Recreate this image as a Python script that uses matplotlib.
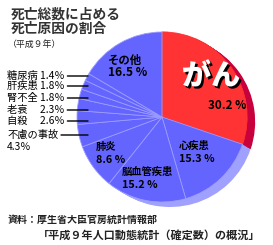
import matplotlib
matplotlib.use("Agg")
import matplotlib.pyplot as plt
import matplotlib.patheffects as pe

plt.rcParams["font.family"] = ["Noto Sans CJK JP", "DejaVu Sans"]

# 死因別割合 (平成9年), 12時から時計回り
causes = ["がん", "心疾患", "脳血管疾患", "肺炎", "不慮の事故", "自殺",
          "老衰", "腎不全", "肝疾患", "糖尿病", "その他"]
shares = [30.2, 15.3, 15.2, 8.6, 4.3, 2.6, 2.3, 1.8, 1.8, 1.4, 16.5]

title_lines = ["死亡総数に占める", "死亡原因の割合"]
subtitle = "（平成９年）"
source_lines = ["資料：厚生省大臣官房統計情報部",
                "「平成９年人口動態統計（確定数）の概況」"]

PURPLE, PURPLE_SIDE, PURPLE_EDGE = "#6464ff", "#a0a0ff", "#9c9cff"
RED, RED_SIDE = "#ff3333", "#c8003c"

fig = plt.figure(figsize=(2.73, 2.45), dpi=100)
ax = fig.add_axes([0, 0, 1, 1])

cx, cy, R = 162, 117, 85
explode = [0.18] + [0] * (len(shares) - 1)
face = [RED] + [PURPLE] * (len(shares) - 1)
side = [RED_SIDE] + [PURPLE_SIDE] * (len(shares) - 1)

# 厚み (側面) を少しずつずらして重ねる
steps = 8
for k in range(steps, 0, -1):
    dx, dy = 8 * k / steps, 5 * k / steps
    ax.pie(shares, colors=side, startangle=-90, counterclock=True,
           center=(cx + dx, cy + dy), radius=R, explode=explode,
           wedgeprops=dict(linewidth=0))

wedges, _ = ax.pie(shares, colors=face, startangle=-90, counterclock=True,
                   center=(cx, cy), radius=R, explode=explode,
                   wedgeprops=dict(linewidth=0.6, edgecolor=PURPLE_EDGE))
wedges[0].set_edgecolor(RED)

ax.set_xlim(0, 273); ax.set_ylim(245, 0)
ax.set_aspect("equal"); ax.axis("off")

# タイトル
ax.text(11, 15, title_lines[0], fontsize=9.9, fontweight="bold", color="#333333", va="center")
ax.text(11, 29, title_lines[1], fontsize=9.9, fontweight="bold", color="#333333", va="center")
ax.text(8, 44, subtitle, fontsize=6.4, color="#222222", va="center")

# がん
ax.text(211, 76, causes[0], fontsize=21, fontweight="heavy", color="white",
        ha="center", va="center",
        path_effects=[pe.withSimplePatchShadow(offset=(1.6, -1.6), shadow_rgbFace="black", alpha=1)])
ax.text(227, 105, f"{shares[0]:.1f} %", fontsize=8.4, fontweight="bold", ha="center", va="center")

# 円の中のラベル
inside = {1: (179, 146), 2: (122, 172), 3: (96, 147), 10: (108, 60)}
for i, (x, y) in inside.items():
    fs = 8.2 if i == 10 else 7.4
    ax.text(x, y, causes[i], fontsize=fs, fontweight="bold", va="center")
    ax.text(x, y + 12.5, f"{shares[i]:.1f} %", fontsize=fs + 0.4, fontweight="bold", va="center")

# 左側の小さい項目 (引き出し線付き)
leader = dict(arrowstyle="-", color="black", lw=1.0, shrinkA=0, shrinkB=0, relpos=(1, 0.5))
left_idx = [9, 8, 7, 6, 5]
left_y = [76, 86, 98, 110, 121]
for i, y in zip(left_idx, left_y):
    name = causes[i] if len(causes[i]) == 3 else causes[i] + "　"
    ax.annotate(f"{name} {shares[i]:.1f}％", xy=(88, y), xytext=(7, y),
                fontsize=7.4, va="center", ha="left", arrowprops=leader)
ax.annotate(causes[4], xy=(88, 135), xytext=(7, 135),
            fontsize=7.4, va="center", ha="left", arrowprops=leader)
ax.text(7, 147, f"{shares[4]:.1f}％", fontsize=7.4, va="center")

# 資料
ax.text(8, 220, source_lines[0], fontsize=7.2, fontweight="bold", color="#222222", va="center")
ax.text(38, 235, source_lines[1], fontsize=8.0, fontweight="bold", color="#222222", va="center")

fig.savefig("out.png", dpi=100)
